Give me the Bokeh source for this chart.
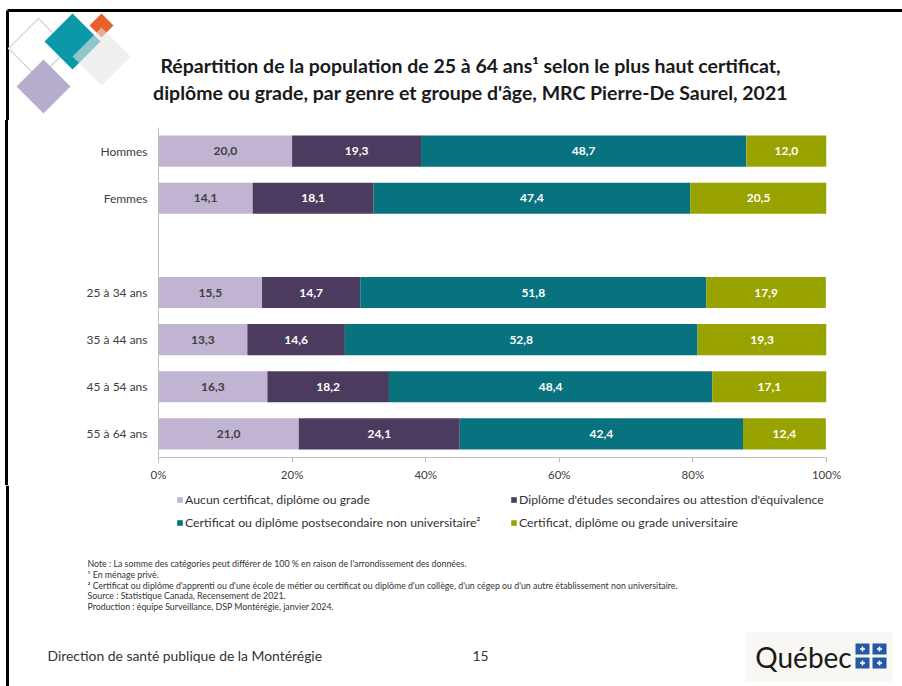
from bokeh.plotting import figure
from bokeh.layouts import column, row
from bokeh.models import (ColumnDataSource, FactorRange, Range1d, FixedTicker,
                          PrintfTickFormatter, Label, Legend, LegendItem, Div)
from bokeh.core.properties import value
from bokeh.embed import file_html
from bokeh.resources import INLINE

# ---------------- data ----------------
categories = ["Hommes", "Femmes", "25 à 34 ans", "35 à 44 ans", "45 à 54 ans", "55 à 64 ans"]
axis_factors = ["55 à 64 ans", "45 à 54 ans", "35 à 44 ans", "25 à 34 ans", " ", "Femmes", "Hommes"]
aucun = [20.0, 14.1, 15.5, 13.3, 16.3, 21.0]
secondaire = [19.3, 18.1, 14.7, 14.6, 18.2, 24.1]
postsec = [48.7, 47.4, 51.8, 52.8, 48.4, 42.4]
univ = [12.0, 20.5, 17.9, 19.3, 17.1, 12.4]
series_keys = ["aucun", "secondaire", "postsec", "univ"]
legend_labels = ["Aucun certificat, diplôme ou grade",
                 "Diplôme d'études secondaires ou attestion d'équivalence",
                 "Certificat ou diplôme postsecondaire non universitaire²",
                 "Certificat, diplôme ou grade universitaire"]
x_ticks = [0, 20, 40, 60, 80, 100]

title_lines = ["Répartition de la population de 25 à 64 ans¹ selon le plus haut certificat,",
               "diplôme ou grade, par genre et groupe d'âge, MRC Pierre-De Saurel, 2021"]
notes = ["Note : La somme des catégories peut différer de 100 % en raison de l'arrondissement des données.",
         "¹ En ménage privé.",
         "² Certificat ou diplôme d'apprenti ou d'une école de métier ou certificat ou diplôme d'un collège, d'un cégep ou d'un autre établissement non universitaire.",
         "Source : Statistique Canada, Recensement de 2021.",
         "Production : équipe Surveillance, DSP Montérégie, janvier 2024."]
footer_left = "Direction de santé publique de la Montérégie"
page_number = "15"
logo_text = "Québec"

# ---------------- styles ----------------
colors = ["#C1B3D2", "#4B3B5F", "#08737F", "#99A300"]
label_colors = ["#404040", "#FFFFFF", "#FFFFFF", "#FFFFFF"]
FONT = "Lato"
PW, PH = 902, 686
HEAD_H = 120
MAIN_B = 485
STRIP_W = 12
BORDER_BG = ("linear-gradient(to right, #ffffff 0px, #ffffff 5.5px, #000000 5.5px, "
             "#000000 8.5px, #ffffff 8.5px, #ffffff 100%)")


def blank_fig(w, h, x0, x1, y0, y1):
    f = figure(width=w, height=h, x_range=Range1d(x0, x1), y_range=Range1d(y1, y0),
               x_axis_type=None, y_axis_type=None, min_border=0,
               output_backend="svg", toolbar_location=None)
    f.outline_line_color = None
    f.background_fill_color = "white"
    f.border_fill_color = "white"
    return f


def diamond(f, cx, cy, r, **kw):
    f.patch([cx, cx + r, cx, cx - r], [cy - r, cy, cy + r, cy], **kw)


# ---------------- header ----------------
header = blank_fig(PW, HEAD_H, 0, PW, 0, HEAD_H)
header.line([7, PW], [10, 10], line_color="black", line_width=3)
header.line([7, 7], [10, HEAD_H], line_color="black", line_width=3)
diamond(header, 38, 48, 30, fill_alpha=0, line_color="#D6DCD4", line_width=1.5)
diamond(header, 43, 86, 27, fill_color="#B5ADCB", line_color=None)
diamond(header, 72, 41, 28, fill_color="#0B99A8", line_color=None)
diamond(header, 101, 25, 12, fill_color="#E8612B", line_color=None)
diamond(header, 101, 56, 29, fill_color="#E6E3E2", fill_alpha=0.6, line_color=None)
for i, t in enumerate(title_lines):
    header.add_layout(Label(x=470, y=65 + 27 * i, text=t, text_align="center",
                            text_baseline="middle", text_font=FONT, text_font_style="bold",
                            text_font_size="19.5px", text_color="#1A1A1A"))

# ---------------- left strip (slide border) ----------------
strip = Div(text="", width=STRIP_W, height=MAIN_B - HEAD_H, margin=0,
            styles={"background": BORDER_BG, "padding": "0", "margin": "0"})

# ---------------- main chart ----------------
src = ColumnDataSource(dict(cat=categories, aucun=aucun, secondaire=secondaire,
                            postsec=postsec, univ=univ))
lx, ly, lt, lc = [], [], [], []
series = [aucun, secondaire, postsec, univ]
for i, c in enumerate(categories):
    left = 0.0
    for k, s in enumerate(series):
        v = s[i]
        lx.append(left + v / 2.0)
        ly.append(c)
        lt.append(f"{v:.1f}".replace(".", ","))
        lc.append(label_colors[k])
        left += v
lab_src = ColumnDataSource(dict(x=lx, cat=ly, text=lt, color=lc))

p = figure(width=PW - STRIP_W, height=MAIN_B - HEAD_H, x_range=Range1d(0, 100),
           y_range=FactorRange(factors=axis_factors),
           output_backend="svg", toolbar_location=None,
           min_border_left=158 - STRIP_W, min_border_right=PW - 826,
           min_border_top=127 - HEAD_H, min_border_bottom=MAIN_B - 457)
p.outline_line_color = None
p.xgrid.grid_line_color = None
p.ygrid.grid_line_color = None
p.background_fill_color = "white"
p.border_fill_color = "white"

rs = p.hbar_stack(series_keys, y="cat", height=0.66, color=colors, source=src, line_color=None)

p.text(x="x", y="cat", text="text", source=lab_src, text_color="color",
       text_font=value(FONT), text_font_style="bold", text_font_size="12px",
       text_align="center", text_baseline="middle")

p.xaxis.ticker = FixedTicker(ticks=x_ticks)
p.xaxis.formatter = PrintfTickFormatter(format="%d%%")
p.xaxis.axis_line_color = "#BFBFBF"
p.xaxis.major_tick_line_color = "#BFBFBF"
p.xaxis.major_tick_out = 5
p.xaxis.major_tick_in = 0
p.xaxis.minor_tick_line_color = None
p.xaxis.major_label_text_font = FONT
p.xaxis.major_label_text_font_size = "11.5px"
p.xaxis.major_label_text_color = "#404040"
p.xaxis.major_label_standoff = 5

p.yaxis.axis_line_color = "#BFBFBF"
p.yaxis.major_tick_line_color = None
p.yaxis.minor_tick_line_color = None
p.yaxis.major_tick_out = 0
p.yaxis.major_tick_in = 0
p.yaxis.major_label_text_font = FONT
p.yaxis.major_label_text_font_size = "12px"
p.yaxis.major_label_text_color = "#404040"
p.yaxis.major_label_standoff = 11

# ---------------- footer (legend, notes, credits) ----------------
footer = blank_fig(PW, PH - MAIN_B, 0, PW, MAIN_B, PH)
footer.line([7, 7], [MAIN_B, PH], line_color="black", line_width=3)

# legend swatches: zero-size bars carrying the same colours as the stacked series
swatches = [footer.hbar(y=[0], left=[0], right=[0], height=0, fill_color=c, line_color=None)
            for c in colors]
legend = Legend(items=[LegendItem(label=l, renderers=[r]) for l, r in zip(legend_labels, swatches)],
                location=(176, PH - 530), orientation="horizontal", ncols=2,
                glyph_width=7, glyph_height=7, label_standoff=2, label_width=318,
                label_height=16, spacing=7, padding=0, margin=0,
                border_line_color=None, background_fill_alpha=0,
                label_text_font=FONT, label_text_font_size="12.3px",
                label_text_color="#333333")
footer.add_layout(legend)

for i, t in enumerate(notes):
    footer.add_layout(Label(x=87, y=563 + 10.8 * i, text=t, text_align="left",
                            text_baseline="middle", text_font=FONT, text_font_size="8.8px",
                            text_color="#333333"))
footer.add_layout(Label(x=47, y=655, text=footer_left, text_align="left",
                        text_baseline="middle", text_font=FONT, text_font_size="13.9px",
                        text_color="#333333"))
footer.add_layout(Label(x=480, y=655, text=page_number, text_align="center",
                        text_baseline="middle", text_font=FONT, text_font_size="13.9px",
                        text_color="#333333"))
footer.quad(left=745, right=892, top=631, bottom=681, fill_color="#F9F7F4", line_color=None)
footer.add_layout(Label(x=803, y=656, text=logo_text, text_align="center",
                        text_baseline="middle", text_font=FONT, text_font_size="28px",
                        text_color="#1A1A1A"))
for fx in (855, 872):
    for fy in (643, 657):
        footer.quad(left=fx, right=fx + 14, top=fy, bottom=fy + 11,
                    fill_color="#2359A6", line_color=None)
        footer.quad(left=fx + 6.2, right=fx + 7.8, top=fy + 3, bottom=fy + 8,
                    fill_color="white", line_color=None)
        footer.quad(left=fx + 4.5, right=fx + 9.5, top=fy + 4.7, bottom=fy + 6.3,
                    fill_color="white", line_color=None)

middle = row(strip, p, styles={"background": BORDER_BG})
layout = column(header, middle, footer)
open("out.html", "w").write(file_html(layout, INLINE))
